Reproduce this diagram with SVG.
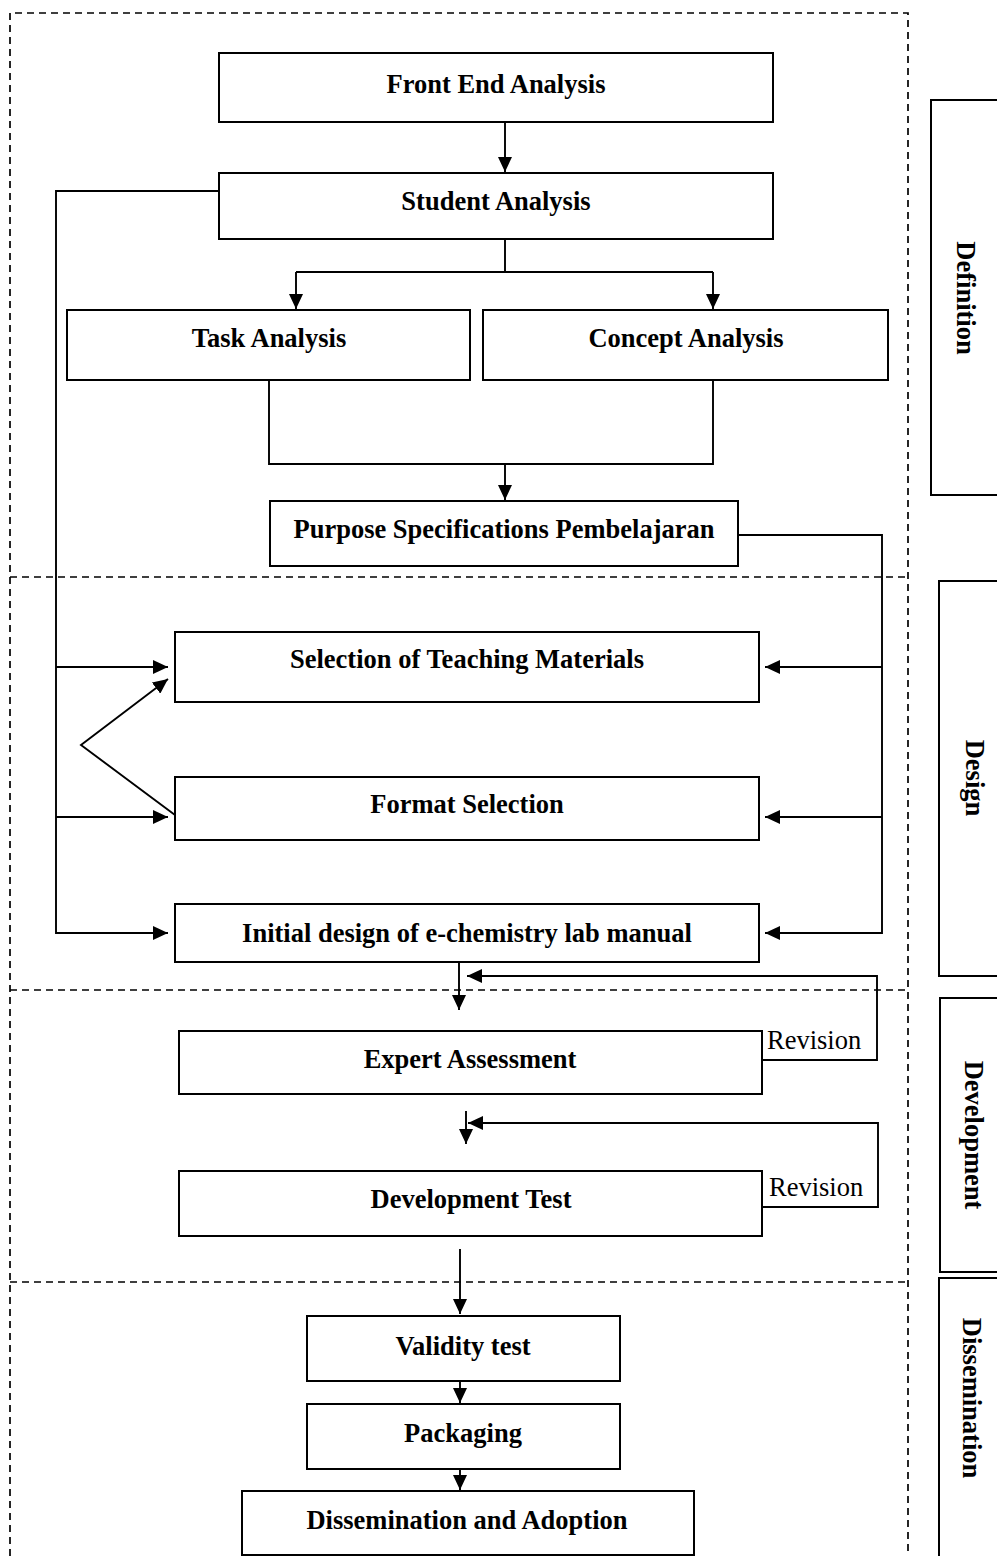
<svg xmlns="http://www.w3.org/2000/svg" width="997" height="1556" viewBox="0 0 997 1556">
<style>
.box{fill:#fff;stroke:#000;stroke-width:2}
.lbl{fill:none;stroke:#000;stroke-width:2}
.dash{fill:none;stroke:#000;stroke-width:1.7;stroke-dasharray:7 5}
.ln{fill:none;stroke:#000;stroke-width:1.9}
.arr{marker-end:url(#ah)}
text{font-family:"Liberation Serif","Times New Roman",serif;font-size:26.5px;fill:#000}
.b{font-weight:bold;text-anchor:middle}
.r{font-weight:normal}
</style>
<defs>
<marker id="ah" markerUnits="userSpaceOnUse" markerWidth="15" markerHeight="14" refX="15" refY="7" orient="auto">
<path d="M0,0 L15,7 L0,14 z" fill="#000"/>
</marker>
</defs>
<rect width="997" height="1556" fill="#fff"/>
<g id="phases">
<path class="dash" d="M10,1556 V13 H908 V1556"/>
<path class="dash" d="M10,577 H908"/>
<path class="dash" d="M10,990 H908"/>
<path class="dash" d="M10,1282 H908"/>
</g>
<g id="label-definition">
<path class="lbl" d="M1000,100 H931 V495 H1000"/>
<text class="b" transform="translate(957,298) rotate(90)">Definition</text>
</g>
<g id="label-design">
<path class="lbl" d="M1000,581 H939 V976 H1000"/>
<text class="b" transform="translate(966,778) rotate(90)">Design</text>
</g>
<g id="label-development">
<path class="lbl" d="M1000,998 H940 V1272 H1000"/>
<text class="b" transform="translate(965,1135) rotate(90)">Development</text>
</g>
<g id="label-dissemination">
<path class="lbl" d="M1000,1278 H939 V1560"/>
<text class="b" transform="translate(963,1398) rotate(90)">Dissemination</text>
</g>
<g id="connectors">
<path class="ln arr" d="M505,122 V172"/>
<path class="ln" d="M505,239 V272 M296,272 H713"/>
<path class="ln arr" d="M296,272 V309"/>
<path class="ln arr" d="M713,272 V309"/>
<path class="ln" d="M269,380 V464 H713 V380"/>
<path class="ln arr" d="M505,464 V500"/>
<path class="ln arr" d="M219,191 H56 V933 H168"/>
<path class="ln arr" d="M56,667 H168"/>
<path class="ln arr" d="M56,817 H168"/>
<path class="ln arr" d="M738,535 H882 V933 H765"/>
<path class="ln arr" d="M882,667 H765"/>
<path class="ln arr" d="M882,817 H765"/>
<path class="ln arr" d="M175,815 L81,745 L168,679"/>
<path class="ln arr" d="M459,962 V1010"/>
<path class="ln arr" d="M762,1060 H877 V976 H467"/>
<path class="ln arr" d="M466,1111 V1144"/>
<path class="ln arr" d="M762,1207 H878 V1123 H468"/>
<path class="ln arr" d="M460,1249 V1314"/>
<path class="ln arr" d="M460,1381 V1403"/>
<path class="ln arr" d="M460,1469 V1490"/>
</g>
<g id="front-end-analysis">
<rect class="box" x="219" y="53" width="554" height="69"/>
<text class="b" x="496" y="93">Front End Analysis</text>
</g>
<g id="student-analysis">
<rect class="box" x="219" y="173" width="554" height="66"/>
<text class="b" x="496" y="210">Student Analysis</text>
</g>
<g id="task-analysis">
<rect class="box" x="67" y="310" width="403" height="70"/>
<text class="b" x="269" y="347">Task Analysis</text>
</g>
<g id="concept-analysis">
<rect class="box" x="483" y="310" width="405" height="70"/>
<text class="b" x="686" y="347">Concept Analysis</text>
</g>
<g id="purpose-specifications">
<rect class="box" x="270" y="501" width="468" height="65"/>
<text class="b" x="504" y="538">Purpose Specifications Pembelajaran</text>
</g>
<g id="selection-teaching-materials">
<rect class="box" x="175" y="632" width="584" height="70"/>
<text class="b" x="467" y="668">Selection of Teaching Materials</text>
</g>
<g id="format-selection">
<rect class="box" x="175" y="777" width="584" height="63"/>
<text class="b" x="467" y="813">Format Selection</text>
</g>
<g id="initial-design">
<rect class="box" x="175" y="904" width="584" height="58"/>
<text class="b" x="467" y="942">Initial design of e-chemistry lab manual</text>
</g>
<g id="expert-assessment">
<rect class="box" x="179" y="1031" width="583" height="63"/>
<text class="b" x="470" y="1068">Expert Assessment</text>
<text class="r" x="767" y="1049">Revision</text>
</g>
<g id="development-test">
<rect class="box" x="179" y="1171" width="583" height="65"/>
<text class="b" x="471" y="1208">Development Test</text>
<text class="r" x="769" y="1196">Revision</text>
</g>
<g id="validity-test">
<rect class="box" x="307" y="1316" width="313" height="65"/>
<text class="b" x="463" y="1355">Validity test</text>
</g>
<g id="packaging">
<rect class="box" x="307" y="1404" width="313" height="65"/>
<text class="b" x="463" y="1442">Packaging</text>
</g>
<g id="dissemination-adoption">
<rect class="box" x="242" y="1491" width="452" height="64"/>
<text class="b" x="467" y="1529">Dissemination and Adoption</text>
</g>
</svg>
